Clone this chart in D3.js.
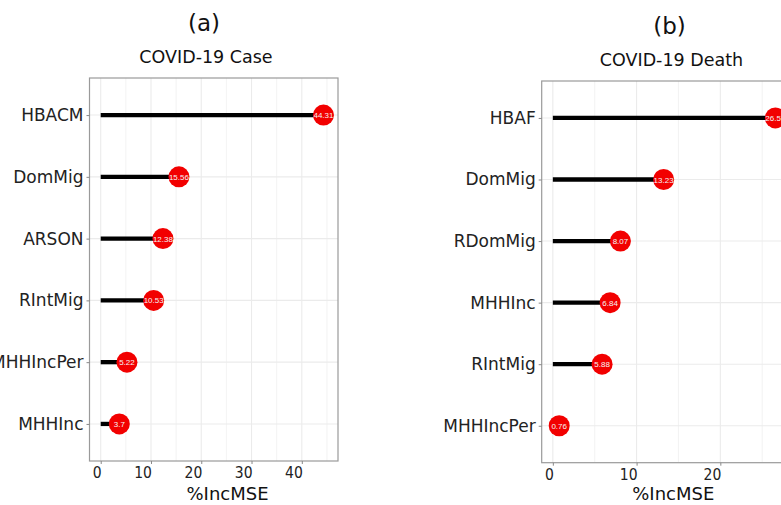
<!DOCTYPE html>
<meta charset="utf-8">
<script src="https://d3js.org/d3.v7.min.js"></script>
<style>
  body { margin: 0; background: #fff; }
  svg { display: block; }
</style>
<svg id="chart" width="781" height="505"></svg>
<script>

// Panel (a): COVID-19 cases
var caseVars = ["HBACM", "DomMig", "ARSON", "RIntMig", "MHHIncPer", "MHHInc"];
var caseVals = [44.31, 15.56, 12.38, 10.53, 5.22, 3.7];
var caseTicks = [0, 10, 20, 30, 40];

// Panel (b): COVID-19 deaths
var deathVars = ["HBAF", "DomMig", "RDomMig", "MHHInc", "RIntMig", "MHHIncPer"];
var deathVals = [26.57, 13.23, 8.07, 6.84, 5.88, 0.76];
var deathTicks = [0, 10, 20];

var svg = d3.select("#chart");
var font = "DejaVu Sans, Verdana, sans-serif";

function drawPanel(o) {
  var g = svg.append("g");

  var x = d3.scaleLinear().domain(o.domain).range([o.left, o.right]);
  var y = d3.scalePoint().domain(o.vars).range([o.top, o.bottom]).padding(0.6);

  // minor + major vertical grid (every 5)
  var grid = d3.range(0, o.domain[1], 5);
  g.selectAll(".vg").data(grid).enter().append("line")
    .attr("x1", d => x(d)).attr("x2", d => x(d))
    .attr("y1", o.top).attr("y2", o.bottom)
    .attr("stroke", "#ebebeb").attr("stroke-width", d => d % 10 == 0 ? 1.1 : 0.6);

  g.selectAll(".hg").data(o.vars).enter().append("line")
    .attr("x1", o.left).attr("x2", o.right)
    .attr("y1", d => y(d)).attr("y2", d => y(d))
    .attr("stroke", "#ebebeb").attr("stroke-width", 1.1);

  // lollipop sticks
  g.selectAll(".seg").data(o.vals).enter().append("line")
    .attr("x1", x(0)).attr("x2", d => x(d))
    .attr("y1", (d, i) => y(o.vars[i])).attr("y2", (d, i) => y(o.vars[i]))
    .attr("stroke", "#000").attr("stroke-width", 4.3);

  g.selectAll(".dot").data(o.vals).enter().append("circle")
    .attr("cx", d => x(d)).attr("cy", (d, i) => y(o.vars[i]))
    .attr("r", 10.5).attr("fill", "#f20000");

  g.selectAll(".lab").data(o.vals).enter().append("text")
    .attr("x", d => x(d)).attr("y", (d, i) => y(o.vars[i]) + 3)
    .attr("text-anchor", "middle")
    .attr("font-family", "Liberation Sans, Arial, sans-serif")
    .attr("font-size", 8).attr("fill", "#f4f4f4")
    .text(d => d);

  // border
  g.append("rect")
    .attr("x", o.left).attr("y", o.top)
    .attr("width", o.right - o.left).attr("height", o.bottom - o.top)
    .attr("fill", "none").attr("stroke", "#9a9a9a").attr("stroke-width", 1.2);

  // axes
  var xAxis = g.append("g").attr("transform", "translate(0," + o.bottom + ")")
    .call(d3.axisBottom(x).tickValues(o.ticks).tickSize(3).tickPadding(3));
  var yAxis = g.append("g").attr("transform", "translate(" + o.left + ",0)")
    .call(d3.axisLeft(y).tickSize(3).tickPadding(3));
  [xAxis, yAxis].forEach(function(a) {
    a.select(".domain").remove();
    a.selectAll("line").attr("stroke", "#888");
    a.selectAll("text").attr("font-family", font).attr("fill", "#222");
  });
  yAxis.selectAll("text").attr("font-size", 17);
  // tick labels sit flush left of their tick in the original
  xAxis.selectAll("text").attr("font-size", 15.5).attr("font-stretch", "condensed")
    .attr("text-anchor", "end").attr("dx", "0.5");

  // titles
  g.append("text").attr("x", o.titleX).attr("y", o.top - 47)
    .attr("text-anchor", "middle").attr("font-family", font).attr("font-size", 23)
    .attr("fill", "#111").text(o.tag);
  g.append("text").attr("x", o.titleX + 2).attr("y", o.top - 15)
    .attr("text-anchor", "middle").attr("font-family", font).attr("font-size", 17.5)
    .attr("fill", "#111").text(o.title);
  g.append("text").attr("x", o.xTitleX).attr("y", 500)
    .attr("text-anchor", "middle").attr("font-family", font).attr("font-size", 18)
    .attr("fill", "#111").text("%IncMSE");
}

drawPanel({
  vars: caseVars, vals: caseVals, ticks: caseTicks,
  domain: [-2.23, 47.2], left: 89.5, right: 338, top: 78, bottom: 461,
  tag: "(a)", title: "COVID-19 Case", titleX: 204, xTitleX: 227.5
});

drawPanel({
  vars: deathVars, vals: deathVals, ticks: deathTicks,
  domain: [-1.33, 27.9], left: 541.7, right: 786.5, top: 81, bottom: 462.7,
  tag: "(b)", title: "COVID-19 Death", titleX: 669.5, xTitleX: 673.3
});

</script>
